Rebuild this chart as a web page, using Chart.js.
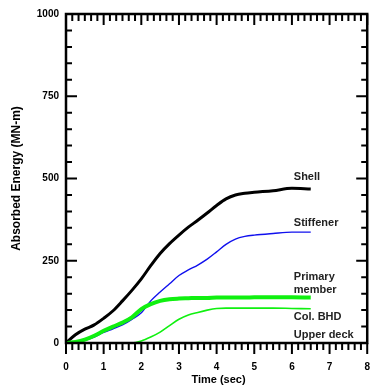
<!DOCTYPE html>
<html>
<head>
<meta charset="utf-8">
<script src="https://cdn.jsdelivr.net/npm/chart.js@4.4.1/dist/chart.umd.min.js"></script>
<style>
  html, body { margin: 0; padding: 0; background: #fff; }
  #wrap { width: 388px; height: 390px; }
</style>
</head>
<body>
<div id="wrap"><canvas id="energyChart"></canvas></div>
<script>
// time (sec)
let times = [0, 0.25, 0.5, 0.75, 1, 1.25, 1.5, 1.75, 2, 2.25, 2.5, 2.75, 3, 3.25, 3.5, 3.75, 4, 4.25, 4.5, 4.75, 5, 5.5, 6, 6.5];

// absorbed energy (MN-m)
let shell      = [0, 25, 42, 55, 75, 98, 128, 160, 195, 235, 272, 302, 328, 352, 373, 395, 418, 438, 450, 455, 458, 463, 470, 468];
let stiffener  = [0, 2, 8, 18, 32, 43, 55, 72, 92, 128, 155, 180, 205, 222, 237, 255, 277, 300, 316, 324, 328, 333, 337, 337];
let primary    = [0, 3, 10, 22, 37, 50, 62, 78, 103, 118, 128, 133, 135, 136, 137, 137, 138, 138, 138, 138, 139, 139, 139, 138];
let upperDeck  = [0, 0, 0, 0, 0, 0, 0, 0, 6, 18, 33, 53, 72, 85, 93, 100, 105, 106, 106, 106, 106, 106, 105, 104];

let xTicks = [0, 1, 2, 3, 4, 5, 6, 7, 8];
let yTicks = [0, 250, 500, 750, 1000];

function toPoints(ys) {
    return times.map((t, i) => ({ x: t, y: ys[i] }));
}

function series(data, color, width) {
    return {
        data: toPoints(data),
        borderColor: color,
        borderWidth: width,
        pointRadius: 0,
        fill: false,
        cubicInterpolationMode: "monotone"
    };
}

const FONT = "'Liberation Sans', Arial, sans-serif";

// frame, inward/outward ticks, axis titles and curve labels
const framePlugin = {
    id: "frame",
    afterDraw(chart) {
        let ctx = chart.ctx;
        let a = chart.chartArea;
        let xs = chart.scales.x, ys = chart.scales.y;
        ctx.save();
        ctx.strokeStyle = "#000";
        ctx.lineWidth = 2.5;
        ctx.strokeRect(a.left, a.top, a.right - a.left, a.bottom - a.top);

        ctx.lineWidth = 2;
        ctx.beginPath();
        // x ticks every 1/6 sec: bottom outward, top inward
        for (let i = 0; i <= 48; i++) {
            let px = xs.getPixelForValue(i / 6);
            let len = (i % 6 === 0) ? 11 : 7;
            ctx.moveTo(px, a.bottom);
            ctx.lineTo(px, a.bottom + len);
            ctx.moveTo(px, a.top);
            ctx.lineTo(px, a.top + len);
        }
        // y ticks every 50, inward on both sides
        for (let v = 0; v <= 1000; v += 50) {
            let py = ys.getPixelForValue(v);
            let len = (v % 250 === 0) ? 11 : 6;
            ctx.moveTo(a.left, py);
            ctx.lineTo(a.left + len, py);
            ctx.moveTo(a.right, py);
            ctx.lineTo(a.right - len, py);
        }
        ctx.stroke();

        ctx.fillStyle = "#000";
        ctx.textAlign = "center";
        ctx.textBaseline = "middle";
        ctx.font = "bold 11px " + FONT;
        ctx.fillText("Time (sec)", xs.getPixelForValue(4.05), 380);

        ctx.save();
        ctx.translate(17, ys.getPixelForValue(500));
        ctx.rotate(-Math.PI / 2);
        ctx.font = "bold 12px " + FONT;
        ctx.fillText("Absorbed Energy (MN-m)", 0, 0);
        ctx.restore();

        ctx.fillStyle = "#222";
        ctx.textAlign = "left";
        ctx.font = "bold 11px " + FONT;
        let lx = xs.getPixelForValue(6.05);
        ctx.fillText("Shell", lx, ys.getPixelForValue(505));
        ctx.fillText("Stiffener", lx, ys.getPixelForValue(364));
        ctx.fillText("Primary", lx, ys.getPixelForValue(200));
        ctx.fillText("member", lx, ys.getPixelForValue(160));
        ctx.fillText("Col. BHD", lx, ys.getPixelForValue(78));
        ctx.fillText("Upper deck", lx, ys.getPixelForValue(24));
        ctx.restore();
    }
};

let ctx = document.getElementById("energyChart").getContext("2d");
new Chart(ctx, {
    type: "line",
    data: {
        datasets: [
            series(upperDeck, "#10f010", 1.6),
            series(primary, "#10f010", 4),
            series(stiffener, "#1010ee", 1.4),
            series(shell, "#000000", 3)
        ]
    },
    options: {
        responsive: true,
        maintainAspectRatio: false,
        animation: false,
        layout: { padding: { top: 14, right: 3, left: 0, bottom: 0 } },
        plugins: { legend: { display: false }, tooltip: { enabled: false } },
        scales: {
            x: {
                type: "linear",
                min: 0,
                max: 8,
                afterBuildTicks: s => { s.ticks = xTicks.map(v => ({ value: v })); },
                afterFit: s => { s.height = 47; },
                grid: { display: false, drawTicks: false },
                border: { display: false },
                ticks: {
                    color: "#000",
                    padding: 18,
                    maxRotation: 0,
                    callback: v => String(v),
                    font: { family: FONT, size: 10, weight: "bold" }
                }
            },
            y: {
                type: "linear",
                min: 0,
                max: 1000,
                afterBuildTicks: s => { s.ticks = yTicks.map(v => ({ value: v })); },
                afterFit: s => { s.width = 66; },
                grid: { display: false, drawTicks: false },
                border: { display: false },
                ticks: {
                    color: "#000",
                    padding: 7,
                    callback: v => String(v),
                    font: { family: FONT, size: 10, weight: "bold" }
                }
            }
        }
    },
    plugins: [framePlugin]
});
</script>
</body>
</html>
